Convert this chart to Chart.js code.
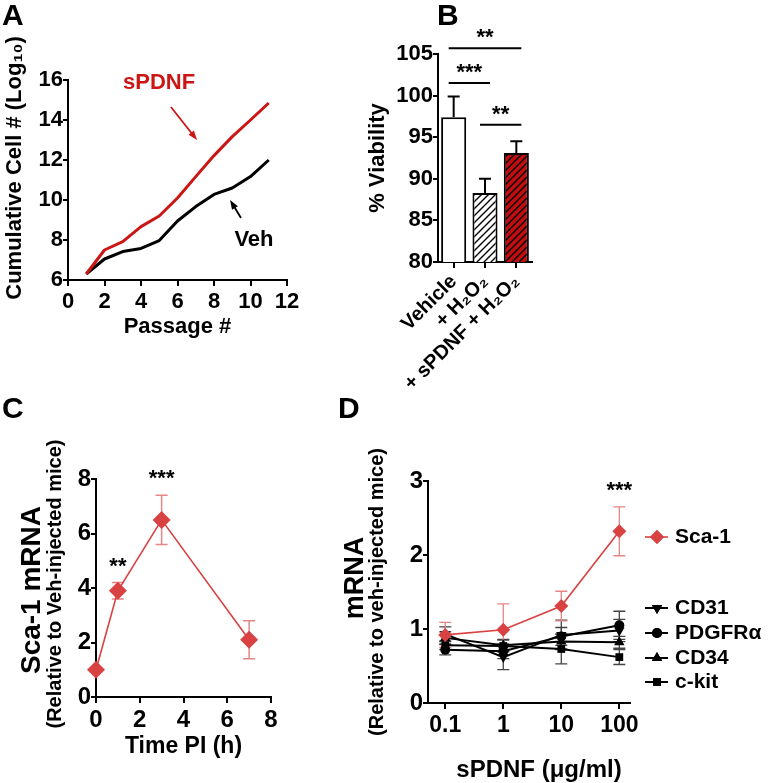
<!DOCTYPE html>
<html>
<head>
<meta charset="utf-8">
<script src="https://cdn.jsdelivr.net/npm/chart.js@4.4.0/dist/chart.umd.min.js"></script>
<style>
  body { margin: 0; background: #fff; width: 768px; height: 783px; position: relative; overflow: hidden; }
  canvas { position: absolute; }
</style>
</head>
<body>
<canvas id="cA" width="340" height="360" style="left:0;top:0"></canvas>
<canvas id="cB" width="428" height="390" style="left:340px;top:0"></canvas>
<canvas id="cC" width="330" height="393" style="left:0;top:390px"></canvas>
<canvas id="cD" width="438" height="393" style="left:330px;top:390px"></canvas>
<script>
// ---- A: cumulative cell number
const passage = [1, 2, 3, 4, 5, 6, 7, 8, 9, 10, 11];
const cellsSPDNF = [6.3, 7.5, 7.92, 8.67, 9.2, 10.1, 11.17, 12.22, 13.17, 14.0, 14.85];
const cellsVeh = [6.3, 7.05, 7.42, 7.58, 7.97, 8.95, 9.67, 10.28, 10.6, 11.17, 12.0];

// ---- B: viability
const groupsB = ['Vehicle', '+ H\u2082O\u2082', '+ sPDNF + H\u2082O\u2082'];
const viability = [97.4, 88.3, 93.1];
const viabilityErr = [2.5, 1.7, 1.4];

// ---- C: Sca-1 over time
const timePI = [0, 1, 3, 7];
const scaTime = [1.0, 3.9, 6.5, 2.1];
const scaTimeErr = [0, 0.3, 0.9, 0.7];
const starsC = ['', '**', '***', ''];

// ---- D: dose response
const dose = [0.1, 1, 10, 100];
const scaDose = [0.92, 0.99, 1.31, 2.32];
const scaDoseErr = [0.17, 0.35, 0.2, 0.33];
const cd31 = [0.93, 0.62, 0.92, 0.98];
const cd31Err = [0.1, 0.17, 0.2, 0.15];
const pdgfra = [0.72, 0.7, 0.9, 1.05];
const pdgfraErr = [0.07, 0.1, 0.12, 0.19];
const cd34 = [0.88, 0.78, 0.83, 0.82];
const cd34Err = [0.08, 0.08, 0.1, 0.08];
const ckit = [0.78, 0.77, 0.73, 0.62];
const ckitErr = [0.06, 0.08, 0.2, 0.1];
const starsD = ['', '', '', '***'];

const FONT = "'Liberation Sans', Arial, sans-serif";
Chart.defaults.font.family = FONT;
Chart.defaults.color = '#000';

const RED_A = '#cc1616';
const RED = '#d94242';
const RED_ERR = '#e58585';

function ax(o) {
  const s = {
    type: o.type,
    min: o.min,
    max: o.max,
    grid: { display: true, drawOnChartArea: false, drawTicks: true, tickLength: o.tl || 5,
            color: '#000', lineWidth: 2, offset: false },
    border: { display: true, color: '#000', width: 2 },
    ticks: { color: '#000', font: { size: o.fs, weight: 'bold' }, padding: o.pad || 0,
             autoSkip: false, maxRotation: o.rot || 0, minRotation: o.rot || 0 },
    afterFit: sc => { if (sc.isHorizontal()) sc.height = o.fit; else sc.width = o.fit; }
  };
  if (o.step) s.ticks.stepSize = o.step;
  if (o.cb) s.ticks.callback = o.cb;
  if (o.at) s.afterBuildTicks = sc => { sc.ticks = o.at.map(v => ({ value: v })); };
  if (o.offset !== undefined) s.offset = o.offset;
  return s;
}

function base(padding, scales) {
  return {
    responsive: false, animation: false, devicePixelRatio: 1,
    layout: { padding },
    plugins: { legend: { display: false }, tooltip: { enabled: false } },
    scales
  };
}

function label(ctx, s, x, y, size, opt = {}) {
  ctx.save();
  ctx.font = 'bold ' + size + 'px ' + FONT;
  ctx.fillStyle = opt.color || '#000';
  ctx.textAlign = opt.align || 'center';
  ctx.textBaseline = opt.base || 'middle';
  ctx.translate(x, y);
  if (opt.rot) ctx.rotate(opt.rot);
  ctx.fillText(s, 0, 0);
  ctx.restore();
}

function arrow(ctx, x1, y1, x2, y2, color) {
  const a = Math.atan2(y2 - y1, x2 - x1), h = 10;
  ctx.save();
  ctx.strokeStyle = color; ctx.fillStyle = color; ctx.lineWidth = 1.8;
  ctx.beginPath(); ctx.moveTo(x1, y1);
  ctx.lineTo(x2 - Math.cos(a) * h * 0.8, y2 - Math.sin(a) * h * 0.8); ctx.stroke();
  ctx.beginPath(); ctx.moveTo(x2, y2);
  ctx.lineTo(x2 - h * Math.cos(a - 0.35), y2 - h * Math.sin(a - 0.35));
  ctx.lineTo(x2 - h * Math.cos(a + 0.35), y2 - h * Math.sin(a + 0.35));
  ctx.closePath(); ctx.fill();
  ctx.restore();
}

function errBars(chart, xs, ys, errs, opt) {
  const { ctx, scales: { x, y } } = chart;
  ctx.save();
  ctx.strokeStyle = opt.color; ctx.lineWidth = opt.lw;
  xs.forEach((xv, i) => {
    if (!errs[i]) return;
    const px = x.getPixelForValue(xv);
    const top = y.getPixelForValue(ys[i] + errs[i]);
    const bot = y.getPixelForValue(opt.upOnly ? ys[i] : ys[i] - errs[i]);
    const c = opt.cap / 2;
    ctx.beginPath();
    ctx.moveTo(px, top); ctx.lineTo(px, bot);
    ctx.moveTo(px - c, top); ctx.lineTo(px + c, top);
    if (!opt.upOnly) { ctx.moveTo(px - c, bot); ctx.lineTo(px + c, bot); }
    ctx.stroke();
  });
  ctx.restore();
}

// ================= A =================
const annotA = {
  id: 'annotA',
  afterDraw(chart) {
    const { ctx, scales: { x, y } } = chart;
    label(ctx, 'A', 2, 25, 30, { align: 'left', base: 'alphabetic' });
    label(ctx, 'Cumulative Cell # (Log\u2081\u2080)', 15, 168, 22, { rot: -Math.PI / 2 });
    label(ctx, 'Passage #', (x.left + x.right) / 2, 327, 22);
    label(ctx, 'sPDNF', x.getPixelForValue(4.99), y.getPixelForValue(15.83), 22, { color: RED_A });
    label(ctx, 'Veh', x.getPixelForValue(10.19), y.getPixelForValue(8.0), 22);
    arrow(ctx, x.getPixelForValue(5.64), y.getPixelForValue(14.65),
               x.getPixelForValue(7.07), y.getPixelForValue(13.0), RED_A);
    arrow(ctx, x.getPixelForValue(9.48), y.getPixelForValue(9.1),
               x.getPixelForValue(8.88), y.getPixelForValue(10.0), '#000');
  }
};

new Chart(document.getElementById('cA'), {
  type: 'line',
  data: {
    datasets: [
      { label: 'sPDNF', data: passage.map((p, i) => ({ x: p, y: cellsSPDNF[i] })),
        borderColor: RED_A, borderWidth: 3, pointRadius: 0, tension: 0, borderJoinStyle: 'round' },
      { label: 'Veh', data: passage.map((p, i) => ({ x: p, y: cellsVeh[i] })),
        borderColor: '#000', borderWidth: 3, pointRadius: 0, tension: 0, borderJoinStyle: 'round' }
    ]
  },
  options: base({ left: 0, top: 80, right: 53, bottom: 0 }, {
    x: ax({ type: 'linear', min: 0, max: 12, step: 2, fs: 22, fit: 80, tl: 6, pad: 3 }),
    y: ax({ type: 'linear', min: 6, max: 16, step: 2, fs: 22, fit: 68 })
  }),
  plugins: [annotA]
});

// ================= B =================
function hatch(ctxTarget, bg) {
  const c = document.createElement('canvas');
  c.width = c.height = 7;
  const g = c.getContext('2d');
  g.fillStyle = bg; g.fillRect(0, 0, 7, 7);
  g.strokeStyle = '#000'; g.lineWidth = 1.4;
  g.beginPath();
  g.moveTo(0, 7); g.lineTo(7, 0);
  g.moveTo(-1, 1); g.lineTo(1, -1);
  g.moveTo(6, 8); g.lineTo(8, 6);
  g.stroke();
  return ctxTarget.createPattern(c, 'repeat');
}

const sigB = [
  { from: 0, to: 2, y: 105.7, stars: '**' },
  { from: 0, to: 1, y: 101.5, stars: '***' },
  { from: 1, to: 2, y: 96.5, stars: '**' }
];

const annotB = {
  id: 'annotB',
  afterDatasetsDraw(chart) {
    errBars(chart, groupsB.map((g, i) => i), viability, viabilityErr,
            { color: '#000', lw: 2, cap: 12, upOnly: true });
  },
  afterDraw(chart) {
    const { ctx, scales: { x, y } } = chart;
    label(ctx, 'B', 97, 25, 30, { align: 'left', base: 'alphabetic' });
    label(ctx, '% Viability', 38, (y.top + y.bottom) / 2, 22, { rot: -Math.PI / 2 });
    ctx.save();
    ctx.strokeStyle = '#000'; ctx.lineWidth = 2;
    sigB.forEach(s => {
      const x1 = x.getPixelForValue(s.from) - 5, x2 = x.getPixelForValue(s.to) + 5;
      const py = y.getPixelForValue(s.y);
      ctx.beginPath(); ctx.moveTo(x1, py); ctx.lineTo(x2, py); ctx.stroke();
      label(ctx, s.stars, (x1 + x2) / 2, py - 4, 22, { base: 'alphabetic' });
    });
    ctx.restore();
  }
};

const ctxB = document.getElementById('cB').getContext('2d');
new Chart(ctxB, {
  type: 'bar',
  data: {
    labels: groupsB,
    datasets: [{
      data: viability,
      backgroundColor: ['#fff', hatch(ctxB, '#fff'), hatch(ctxB, '#c20e0e')],
      borderColor: '#000', borderWidth: 2, borderSkipped: false,
      categoryPercentage: 1, barPercentage: 0.8
    }]
  },
  options: base({ left: 0, top: 54, right: 236, bottom: 0 }, {
    x: ax({ type: 'category', fs: 20, fit: 128, rot: 45, tl: 6, pad: 2, offset: true }),
    y: ax({ type: 'linear', min: 80, max: 105, step: 5, fs: 22, fit: 98 })
  }),
  plugins: [annotB]
});

// ================= C =================
const annotC = {
  id: 'annotC',
  beforeDatasetsDraw(chart) {
    errBars(chart, timePI, scaTime, scaTimeErr, { color: RED_ERR, lw: 1.5, cap: 12 });
  },
  afterDraw(chart) {
    const { ctx, scales: { x, y } } = chart;
    label(ctx, 'C', 2, 28, 30, { align: 'left', base: 'alphabetic' });
    const cy = (y.top + y.bottom) / 2;
    label(ctx, 'Sca-1 mRNA', 32, cy + 2, 28, { rot: -Math.PI / 2 });
    label(ctx, '(Relative to Veh-injected mice)', 55, cy - 4, 20, { rot: -Math.PI / 2 });
    label(ctx, 'Time PI (h)', (x.left + x.right) / 2, 357, 23);
    starsC.forEach((s, i) => {
      if (!s) return;
      const py = y.getPixelForValue(scaTime[i] + scaTimeErr[i]);
      label(ctx, s, x.getPixelForValue(timePI[i]), py - 10, 22, { base: 'alphabetic' });
    });
  }
};

new Chart(document.getElementById('cC'), {
  type: 'line',
  data: {
    datasets: [{
      data: timePI.map((t, i) => ({ x: t, y: scaTime[i] })),
      borderColor: RED, backgroundColor: RED, borderWidth: 1.6, tension: 0,
      pointStyle: 'rectRot', pointRadius: 9, pointBorderWidth: 0, clip: false
    }]
  },
  options: base({ left: 0, top: 89, right: 59, bottom: 0 }, {
    x: ax({ type: 'linear', min: 0, max: 8, step: 2, fs: 24, fit: 86, tl: 6, pad: 3 }),
    y: ax({ type: 'linear', min: 0, max: 8, step: 2, fs: 24, fit: 96 })
  }),
  plugins: [annotC]
});

// ================= D =================
const seriesD = [
  { label: 'Sca-1', y: scaDose, err: scaDoseErr, color: RED, errColor: RED_ERR, style: 'rectRot', r: 7, rot: 0, lw: 1.6 },
  { label: 'CD31', y: cd31, err: cd31Err, color: '#000', errColor: '#444', style: 'triangle', r: 6, rot: 180, lw: 2 },
  { label: 'PDGFR\u03b1', y: pdgfra, err: pdgfraErr, color: '#000', errColor: '#444', style: 'circle', r: 5, rot: 0, lw: 2 },
  { label: 'CD34', y: cd34, err: cd34Err, color: '#000', errColor: '#444', style: 'triangle', r: 6, rot: 0, lw: 2 },
  { label: 'c-kit', y: ckit, err: ckitErr, color: '#000', errColor: '#444', style: 'rect', r: 5.5, rot: 0, lw: 2 }
];
const legendRowsD = [147, 218, 243, 268, 292];

const annotD = {
  id: 'annotD',
  beforeDatasetsDraw(chart) {
    seriesD.slice().reverse().forEach(s =>
      errBars(chart, dose, s.y, s.err, { color: s.errColor, lw: 1.3, cap: 12 }));
  },
  afterDraw(chart) {
    const { ctx, scales: { x, y } } = chart;
    label(ctx, 'D', 8, 28, 30, { align: 'left', base: 'alphabetic' });
    const cy = (y.top + y.bottom) / 2;
    label(ctx, 'mRNA', 26, cy - 14, 27, { rot: -Math.PI / 2 });
    label(ctx, '(Relative to veh-injected mice)', 47, cy, 20, { rot: -Math.PI / 2 });
    label(ctx, 'sPDNF (\u03bcg/ml)', (x.left + x.right) / 2 + 10, 380, 24);
    starsD.forEach((s, i) => {
      if (!s) return;
      const py = y.getPixelForValue(scaDose[i] + scaDoseErr[i]);
      label(ctx, s, x.getPixelForValue(dose[i]), py - 10, 22, { base: 'alphabetic' });
    });
    // legend
    seriesD.forEach((s, i) => {
      const ly = legendRowsD[i];
      ctx.save();
      ctx.strokeStyle = s.color; ctx.lineWidth = s.lw;
      ctx.beginPath(); ctx.moveTo(315, ly); ctx.lineTo(338, ly); ctx.stroke();
      ctx.fillStyle = s.color;
      Chart.helpers.drawPoint(ctx, { pointStyle: s.style, radius: s.r, rotation: s.rot, borderWidth: 0 }, 327, ly);
      ctx.fill();
      ctx.restore();
      label(ctx, s.label, 345, ly, 21, { align: 'left' });
    });
  }
};

new Chart(document.getElementById('cD'), {
  type: 'line',
  data: {
    datasets: seriesD.map(s => ({
      label: s.label,
      data: dose.map((d, i) => ({ x: d, y: s.y[i] })),
      borderColor: s.color, backgroundColor: s.color, borderWidth: s.lw, tension: 0,
      pointStyle: s.style, pointRadius: s.r, pointRotation: s.rot, pointBorderWidth: 0, clip: false
    }))
  },
  options: base({ left: 0, top: 91, right: 138, bottom: 0 }, {
    x: ax({ type: 'logarithmic', min: 0.0504, max: 152.8, fs: 23, fit: 80, tl: 6, pad: 3,
            at: dose, cb: v => String(v) }),
    y: ax({ type: 'linear', min: 0, max: 3, step: 1, fs: 24, fit: 98 })
  }),
  plugins: [annotD]
});
</script>
</body>
</html>
